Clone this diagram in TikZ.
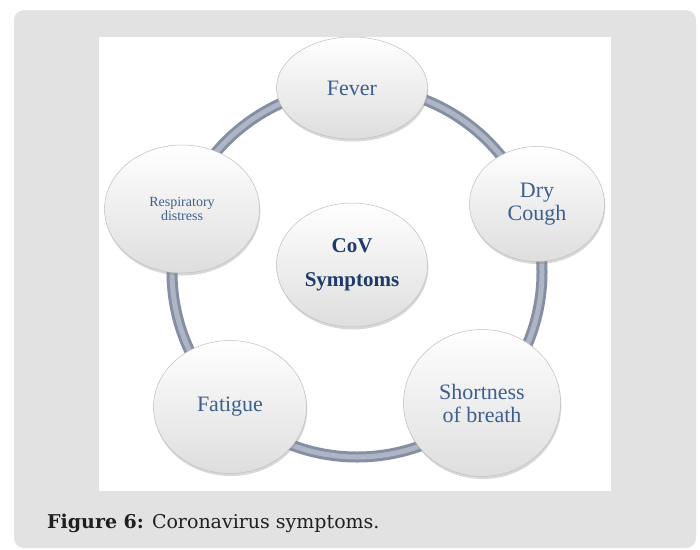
\documentclass[tikz,border=0pt]{standalone}
\usepackage{fontspec}
\setmainfont{Liberation Serif}
\newfontfamily\capfont{DejaVu Serif}
\usepackage{tikz}
\usetikzlibrary{shapes.geometric,shadows}
\definecolor{pagegray}{HTML}{E2E2E2}
\definecolor{ringblue}{HTML}{858FA4}
\definecolor{ringhl}{HTML}{AEB6C6}
\definecolor{symtext}{HTML}{3D5E8E}
\definecolor{hubtext}{HTML}{1E3A6C}

\begin{document}
\begin{tikzpicture}[x=1pt, y=-1pt,
  sym/.style={ellipse, draw=black!25, line width=0.5pt, top color=white, middle color=white,
              bottom color=black!13, inner sep=0pt, align=center, text=symtext,
              font=\fontsize{22}{23}\selectfont,
              drop shadow={opacity=0.3, shadow xshift=0.8pt, shadow yshift=-2.5pt}},
  hub/.style={sym, text=hubtext, font=\bfseries\fontsize{21}{34}\selectfont},
  small/.style={font=\fontsize{14}{14}\selectfont},
  ringline/.style={line width=11pt, ringblue},
  ringglow/.style={line width=5pt, ringhl},
  figcap/.style={anchor=base west, inner sep=0pt, text=black!88, font=\capfont\fontsize{19}{21}\selectfont}]
\useasboundingbox (0,0) rectangle (700,549);
\fill[pagegray, rounded corners=10pt] (14,10) rectangle (696,548);
\fill[white] (99,37) rectangle (611,491);
% ring behind the bubbles
\coordinate (ring) at (357,272);
\draw[ringline] (ring) circle[radius=185];
\draw[ringglow] (ring) circle[radius=185];
\node[sym, minimum width=151pt, minimum height=102pt] (fever) at (352,88) {Fever};
\node[sym, minimum width=135pt, minimum height=115pt] (cough) at (537,204) {Dry\\Cough};
\node[sym, minimum width=157pt, minimum height=147pt] (breath) at (482,403) {Shortness\\of breath};
\node[sym, minimum width=153pt, minimum height=133pt] (fatigue) at (230,407) {Fatigue};
\node[sym, small, minimum width=155pt, minimum height=128pt] (resp) at (182,209) {Respiratory\\distress};
\node[hub, minimum width=151pt, minimum height=124pt] (cov) at (352,265) {CoV\\Symptoms};
\node[figcap] (caption) at (47,528) {\textbf{Figure 6:} Coronavirus symptoms.};
\end{tikzpicture}
\end{document}
